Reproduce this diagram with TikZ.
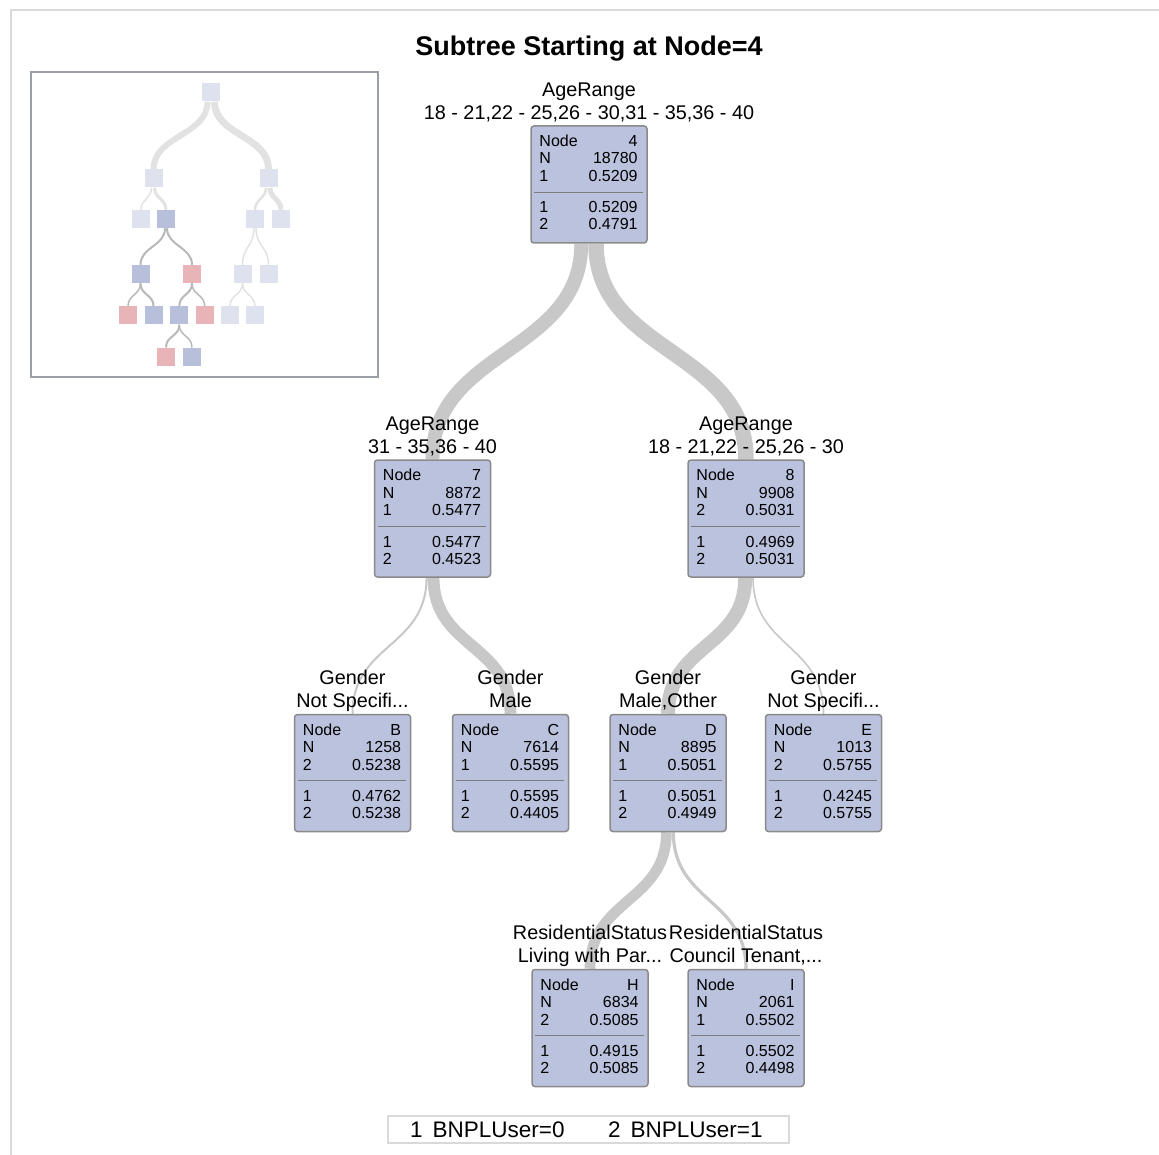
\documentclass[tikz,border=0pt]{standalone}
\usepackage{fontspec}
\setmainfont{Liberation Sans}
\pgfdeclarelayer{background}
\pgfsetlayers{background,main}
\definecolor{boxfill}{HTML}{BAC2DD}
\definecolor{boxline}{HTML}{8A8A8A}
\definecolor{sepgray}{HTML}{7C7C7C}
\definecolor{branchgray}{HTML}{C8C8C8}
\definecolor{framegray}{HTML}{D9D9D9}
\definecolor{insetline}{HTML}{9A9EA6}
\definecolor{fadeblue}{HTML}{DEE1EE}
\definecolor{miniblue}{HTML}{B7BFDB}
\definecolor{minipink}{HTML}{E8B4B8}
\definecolor{lightedge}{HTML}{E2E2E2}
\definecolor{darkedge}{HTML}{B8B8B8}
\tikzset{
    tbox/.style={draw=boxline, fill=boxfill, line width=1.5pt, rounded corners=3pt,
        minimum width=116pt, minimum height=117pt, inner sep=0pt},
    trow/.style={inner sep=0pt, text height=11.5pt, text depth=0pt,
        font=\fontsize{16}{18}\selectfont},
    tlabel/.style={inner sep=0pt, text height=14pt, text depth=0pt,
        font=\fontsize{19.8}{22}\selectfont},
    branch/.style={draw=branchgray},
    minibox/.style={minimum size=18pt, inner sep=0pt},
    iedge/.style={draw=#1},
    legtext/.style={inner sep=0pt, text height=15.5pt, text depth=0pt, anchor=west,
        font=\fontsize{22.5}{25}\selectfont},
}
\newcommand{\treebox}[9]{
    \node[tbox] (#1) at (#2,#3) {};
    \node[trow, anchor=west] (#1a) at ([xshift=9pt,yshift=-15.5pt]#1.north west) {Node};
    \node[trow, anchor=east] (#1b) at ([xshift=-10pt,yshift=-15.5pt]#1.north east) {#4};
    \node[trow, anchor=west] (#1c) at ([xshift=9pt,yshift=-33pt]#1.north west) {N};
    \node[trow, anchor=east] (#1d) at ([xshift=-10pt,yshift=-33pt]#1.north east) {#5};
    \node[trow, anchor=west] (#1e) at ([xshift=9pt,yshift=-50.5pt]#1.north west) {#6};
    \node[trow, anchor=east] (#1f) at ([xshift=-10pt,yshift=-50.5pt]#1.north east) {#7};
    \draw[sepgray, line width=1.2pt] ([xshift=4pt,yshift=-67pt]#1.north west) -- ([xshift=-5pt,yshift=-67pt]#1.north east);
    \node[trow, anchor=west] (#1g) at ([xshift=9pt,yshift=-82pt]#1.north west) {1};
    \node[trow, anchor=east] (#1h) at ([xshift=-10pt,yshift=-82pt]#1.north east) {#8};
    \node[trow, anchor=west] (#1i) at ([xshift=9pt,yshift=-99pt]#1.north west) {2};
    \node[trow, anchor=east] (#1j) at ([xshift=-10pt,yshift=-99pt]#1.north east) {#9};
}
\newcommand{\treelabel}[3]{
    \node[tlabel] (#1top) at ([yshift=36pt]#1.north) {#2};
    \node[tlabel] (#1bot) at ([yshift=13pt]#1.north) {#3};
}
\newcommand{\branchline}[5]{
    \draw[branch, line width=#3pt] ([xshift=#4pt]#1.south) .. controls +(0pt,-#5pt) and +(0pt,#5pt) .. (#2.north);
}

\begin{document}
\begin{tikzpicture}[x=1pt, y=-1pt]
    \useasboundingbox (0,0) rectangle (1159,1155);
    \draw[framegray, line width=2pt] (11,1155) -- (11,10) -- (1159,10);

    \node[inner sep=0pt, text height=19pt, text depth=0pt, font=\fontsize{27}{32}\selectfont\bfseries] (title) at (589,46) {Subtree Starting at Node=4};

    \draw[insetline, line width=2pt] (31,72) rectangle (378,377);
    \node[minibox, fill=fadeblue] (mr) at (211,92.5) {};
    \node[minibox, fill=fadeblue] (ma) at (153.5,178.5) {};
    \node[minibox, fill=fadeblue] (mb) at (268.5,178.5) {};
    \node[minibox, fill=fadeblue] (mc) at (141,219) {};
    \node[minibox, fill=miniblue] (md) at (166,219) {};
    \node[minibox, fill=fadeblue] (me) at (255,219) {};
    \node[minibox, fill=fadeblue] (mf) at (281,219) {};
    \node[minibox, fill=miniblue] (mg) at (140.5,274) {};
    \node[minibox, fill=minipink] (mh) at (192,274) {};
    \node[minibox, fill=fadeblue] (mk) at (242.5,274) {};
    \node[minibox, fill=fadeblue] (ml) at (268.5,274) {};
    \node[minibox, fill=minipink] (mm) at (128,315.5) {};
    \node[minibox, fill=miniblue] (mn) at (153.5,315.5) {};
    \node[minibox, fill=miniblue] (mo) at (179.3,315.5) {};
    \node[minibox, fill=minipink] (mp) at (204.7,315.5) {};
    \node[minibox, fill=fadeblue] (mq) at (230,315.5) {};
    \node[minibox, fill=fadeblue] (ms) at (255,315.5) {};
    \node[minibox, fill=minipink] (mt) at (166,356.7) {};
    \node[minibox, fill=miniblue] (mu) at (192,356.7) {};

    \begin{pgfonlayer}{background}
    \draw[iedge=lightedge, line width=6pt] ([xshift=-3.5pt]mr.south) .. controls +(0pt,-34pt) and +(0pt,34pt) .. (ma.north);
    \draw[iedge=lightedge, line width=7pt] ([xshift=3.5pt]mr.south) .. controls +(0pt,-34pt) and +(0pt,34pt) .. (mb.north);
    \draw[iedge=lightedge, line width=1.5pt] ([xshift=-2pt]ma.south) .. controls +(0pt,-11pt) and +(0pt,11pt) .. (mc.north);
    \draw[iedge=lightedge, line width=3pt] ([xshift=1pt]ma.south) .. controls +(0pt,-11pt) and +(0pt,11pt) .. (md.north);
    \draw[iedge=lightedge, line width=2.5pt] ([xshift=-2.5pt]mb.south) .. controls +(0pt,-11pt) and +(0pt,11pt) .. (me.north);
    \draw[iedge=lightedge, line width=5pt] ([xshift=1.5pt]mb.south) .. controls +(0pt,-11pt) and +(0pt,11pt) .. (mf.north);
    \draw[iedge=darkedge, line width=2pt] ([xshift=-1pt]md.south) .. controls +(0pt,-18pt) and +(0pt,18pt) .. (mg.north);
    \draw[iedge=darkedge, line width=2pt] ([xshift=1pt]md.south) .. controls +(0pt,-18pt) and +(0pt,18pt) .. (mh.north);
    \draw[iedge=lightedge, line width=1.5pt] ([xshift=-1pt]me.south) .. controls +(0pt,-18pt) and +(0pt,18pt) .. (mk.north);
    \draw[iedge=lightedge, line width=1.5pt] ([xshift=1pt]me.south) .. controls +(0pt,-18pt) and +(0pt,18pt) .. (ml.north);
    \draw[iedge=darkedge, line width=1.5pt] (mg.south) .. controls +(0pt,-12pt) and +(0pt,12pt) .. (mm.north);
    \draw[iedge=darkedge, line width=2pt] (mg.south) .. controls +(0pt,-12pt) and +(0pt,12pt) .. (mn.north);
    \draw[iedge=darkedge, line width=2pt] (mh.south) .. controls +(0pt,-12pt) and +(0pt,12pt) .. (mo.north);
    \draw[iedge=darkedge, line width=1.5pt] (mh.south) .. controls +(0pt,-12pt) and +(0pt,12pt) .. (mp.north);
    \draw[iedge=lightedge, line width=1.5pt] (mk.south) .. controls +(0pt,-12pt) and +(0pt,12pt) .. (mq.north);
    \draw[iedge=lightedge, line width=1.5pt] (mk.south) .. controls +(0pt,-12pt) and +(0pt,12pt) .. (ms.north);
    \draw[iedge=darkedge, line width=2pt] (mo.south) .. controls +(0pt,-12pt) and +(0pt,12pt) .. (mt.north);
    \draw[iedge=darkedge, line width=1.5pt] (mo.south) .. controls +(0pt,-12pt) and +(0pt,12pt) .. (mu.north);
    \end{pgfonlayer}

    \treebox{n4}{589}{184.5}{4}{18780}{1}{0.5209}{0.5209}{0.4791}
    \treebox{n7}{432.5}{518.5}{7}{8872}{1}{0.5477}{0.5477}{0.4523}
    \treebox{n8}{746}{518.5}{8}{9908}{2}{0.5031}{0.4969}{0.5031}
    \treebox{nB}{352.5}{773}{B}{1258}{2}{0.5238}{0.4762}{0.5238}
    \treebox{nC}{510.5}{773}{C}{7614}{1}{0.5595}{0.5595}{0.4405}
    \treebox{nD}{668}{773}{D}{8895}{1}{0.5051}{0.5051}{0.4949}
    \treebox{nE}{823.5}{773}{E}{1013}{2}{0.5755}{0.4245}{0.5755}
    \treebox{nH}{590}{1028}{H}{6834}{2}{0.5085}{0.4915}{0.5085}
    \treebox{nI}{746}{1028}{I}{2061}{1}{0.5502}{0.5502}{0.4498}

    \treelabel{n4}{AgeRange}{18 - 21,22 - 25,26 - 30,31 - 35,36 - 40}
    \treelabel{n7}{AgeRange}{31 - 35,36 - 40}
    \treelabel{n8}{AgeRange}{18 - 21,22 - 25,26 - 30}
    \treelabel{nB}{Gender}{Not Specifi...}
    \treelabel{nC}{Gender}{Male}
    \treelabel{nD}{Gender}{Male,Other}
    \treelabel{nE}{Gender}{Not Specifi...}
    \treelabel{nH}{ResidentialStatus}{Living with Par...}
    \treelabel{nI}{ResidentialStatus}{Council Tenant,...}

    \begin{pgfonlayer}{background}
    \branchline{n4}{n7}{13.9}{-7.75}{110}
    \branchline{n4}{n8}{15.5}{7}{110}
    \branchline{n7}{nB}{2}{-5.95}{70}
    \branchline{n7}{nC}{11.9}{1}{70}
    \branchline{n8}{nD}{13.9}{-0.8}{70}
    \branchline{n8}{nE}{1.6}{7}{70}
    \branchline{nD}{nH}{10.7}{-1.6}{70}
    \branchline{nD}{nI}{3.2}{5.35}{70}
    \end{pgfonlayer}

    \node[draw=framegray, line width=1.5pt, minimum width=401pt, minimum height=27pt, inner sep=0pt] (legend) at (588.5,1129.5) {};
    \node[legtext] (leg1) at (410,1129.5) {1\hspace{10pt}BNPLUser=0};
    \node[legtext] (leg2) at (608,1129.5) {2\hspace{10pt}BNPLUser=1};
\end{tikzpicture}
\end{document}
